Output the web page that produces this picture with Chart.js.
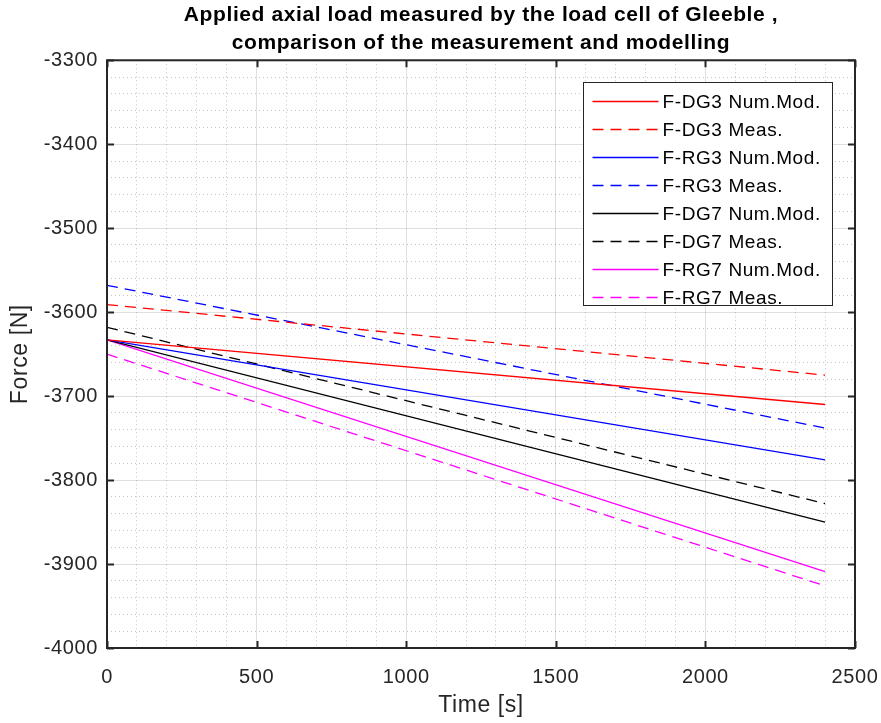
<!DOCTYPE html>
<html>
<head>
<meta charset="utf-8">
<script src="https://cdn.jsdelivr.net/npm/chart.js@4.4.1/dist/chart.umd.min.js"></script>
<style>
  html, body { margin: 0; padding: 0; background: #fff; }
  #wrap { width: 881px; height: 723px; }
</style>
</head>
<body>
<div id="wrap"><canvas id="myChart" width="881" height="723"></canvas></div>
<script>
// time axis [s]
var timeS = [0, 2400];

// force [N]
var dg3Num  = [-3633, -3710];
var dg3Meas = [-3591, -3675];
var rg3Num  = [-3633, -3776];
var rg3Meas = [-3568, -3738];
var dg7Num  = [-3633, -3850];
var dg7Meas = [-3618, -3828];
var rg7Num  = [-3633, -3909];
var rg7Meas = [-3650, -3926];

var seriesNames = ['F-DG3 Num.Mod.', 'F-DG3 Meas.', 'F-RG3 Num.Mod.', 'F-RG3 Meas.',
                   'F-DG7 Num.Mod.', 'F-DG7 Meas.', 'F-RG7 Num.Mod.', 'F-RG7 Meas.'];
var seriesData = [dg3Num, dg3Meas, rg3Num, rg3Meas, dg7Num, dg7Meas, rg7Num, rg7Meas];
var seriesColors = ['#ff0000', '#ff0000', '#0000ff', '#0000ff', '#000000', '#000000', '#ff00ff', '#ff00ff'];
var seriesDashed = [false, true, false, true, false, true, false, true];

var xTicks = [0, 500, 1000, 1500, 2000, 2500];
var yTicks = [-4000, -3900, -3800, -3700, -3600, -3500, -3400, -3300];

var FONT = "'Liberation Sans', Arial, Helvetica, sans-serif";
var AXIS_COLOR = '#262626';
var SPACING = '0.6px';   // MATLAB text renders a touch wider than canvas text

var datasets = seriesNames.map(function(name, i) {
  return {
    label: name,
    data: timeS.map(function(t, k) { return { x: t, y: seriesData[i][k] }; }),
    borderColor: seriesColors[i],
    backgroundColor: seriesColors[i],
    borderWidth: 1.3,
    borderDash: seriesDashed[i] ? [11, 7] : [],
    pointRadius: 0,
    fill: false,
    tension: 0
  };
});

function isMajor(v, step) { return Math.abs(v % step) < 1e-6; }

var wideText = {
  id: 'wideText',
  beforeLayout: function(chart) { chart.ctx.letterSpacing = SPACING; },
  beforeDraw: function(chart) { chart.ctx.letterSpacing = SPACING; }
};

// axis box, inward ticks and the legend box, MATLAB style
var matlabAxes = {
  id: 'matlabAxes',
  afterDatasetsDraw: function(chart) {
    var ctx = chart.ctx, a = chart.chartArea;
    var xs = chart.scales.x, ys = chart.scales.y;
    ctx.save();
    ctx.strokeStyle = AXIS_COLOR;
    ctx.lineWidth = 2;
    ctx.strokeRect(a.left, a.top, a.right - a.left, a.bottom - a.top);
    ctx.beginPath();
    var tl = 7;
    xTicks.forEach(function(v) {
      var px = Math.round(xs.getPixelForValue(v)) + 0.5;
      ctx.moveTo(px, a.bottom); ctx.lineTo(px, a.bottom - tl);
      ctx.moveTo(px, a.top); ctx.lineTo(px, a.top + tl);
    });
    yTicks.forEach(function(v) {
      var py = Math.round(ys.getPixelForValue(v)) + 0.5;
      ctx.moveTo(a.left, py); ctx.lineTo(a.left + tl, py);
      ctx.moveTo(a.right, py); ctx.lineTo(a.right - tl, py);
    });
    ctx.stroke();

    // legend
    var bx = 583.5, by = 82.5, bw = 249, bh = 223;
    ctx.fillStyle = '#fff';
    ctx.fillRect(bx, by, bw, bh);
    ctx.strokeStyle = AXIS_COLOR;
    ctx.lineWidth = 1;
    ctx.strokeRect(bx, by, bw, bh);
    ctx.font = '19px ' + FONT;
    ctx.letterSpacing = SPACING;
    ctx.textBaseline = 'middle';
    ctx.textAlign = 'left';
    chart.data.datasets.forEach(function(ds, i) {
      var cy = Math.round(by + 18 + i * 28) + 0.5;
      ctx.strokeStyle = ds.borderColor;
      ctx.lineWidth = 1.3;
      ctx.setLineDash(ds.borderDash);
      ctx.beginPath();
      ctx.moveTo(bx + 9, cy); ctx.lineTo(bx + 75, cy);
      ctx.stroke();
      ctx.setLineDash([]);
      ctx.fillStyle = '#000';
      ctx.fillText(ds.label, bx + 79, cy + 1);
    });
    ctx.restore();
  }
};

new Chart('myChart', {
  type: 'line',
  data: { datasets: datasets },
  options: {
    responsive: false,
    animation: false,
    layout: { padding: { left: 0, right: 26, top: 0, bottom: 0 } },
    plugins: {
      legend: { display: false },
      tooltip: { enabled: false },
      title: {
        display: true,
        fullSize: false,
        text: ['Applied axial load measured by the load cell of Gleeble ,',
               'comparison of the measurement and modelling'],
        color: '#000',
        font: { family: FONT, size: 21, weight: 'bold', lineHeight: 1.34 },
        padding: { top: 1, bottom: 3 }
      }
    },
    scales: {
      x: {
        type: 'linear',
        min: 0,
        max: 2500,
        afterFit: function(s) { s.height = 75; s.paddingLeft = 0; s.paddingRight = 0; },
        ticks: {
          stepSize: 100,
          autoSkip: false,
          maxRotation: 0,
          padding: 17,
          color: AXIS_COLOR,
          font: { family: FONT, size: 20 },
          callback: function(v) { return isMajor(v, 500) ? String(v) : ''; }
        },
        title: {
          display: true,
          text: 'Time [s]',
          color: AXIS_COLOR,
          font: { family: FONT, size: 23 },
          padding: { top: 0, bottom: 4 }
        },
        grid: {
          drawTicks: false,
          lineWidth: 1,
          color: function(c) {
            return isMajor(c.tick.value, 500) ? 'rgba(38,38,38,0.15)' : 'rgba(38,38,38,0.27)';
          }
        },
        border: {
          display: false,
          dash: function(c) { return isMajor(c.tick.value, 500) ? [] : [1, 3]; }
        }
      },
      y: {
        type: 'linear',
        min: -4000,
        max: -3300,
        afterFit: function(s) { s.width = 107; s.paddingTop = 0; s.paddingBottom = 0; },
        ticks: {
          stepSize: 20,
          autoSkip: false,
          padding: 9,
          color: AXIS_COLOR,
          font: { family: FONT, size: 20 },
          callback: function(v) { return isMajor(v, 100) ? String(v) : ''; }
        },
        title: {
          display: true,
          text: 'Force [N]',
          color: AXIS_COLOR,
          font: { family: FONT, size: 23 },
          padding: { top: 7, bottom: 0 }
        },
        grid: {
          drawTicks: false,
          lineWidth: 1,
          color: function(c) {
            return isMajor(c.tick.value, 100) ? 'rgba(38,38,38,0.15)' : 'rgba(38,38,38,0.27)';
          }
        },
        border: {
          display: false,
          dash: function(c) { return isMajor(c.tick.value, 100) ? [] : [1, 3]; }
        }
      }
    }
  },
  plugins: [wideText, matlabAxes]
});
</script>
</body>
</html>
